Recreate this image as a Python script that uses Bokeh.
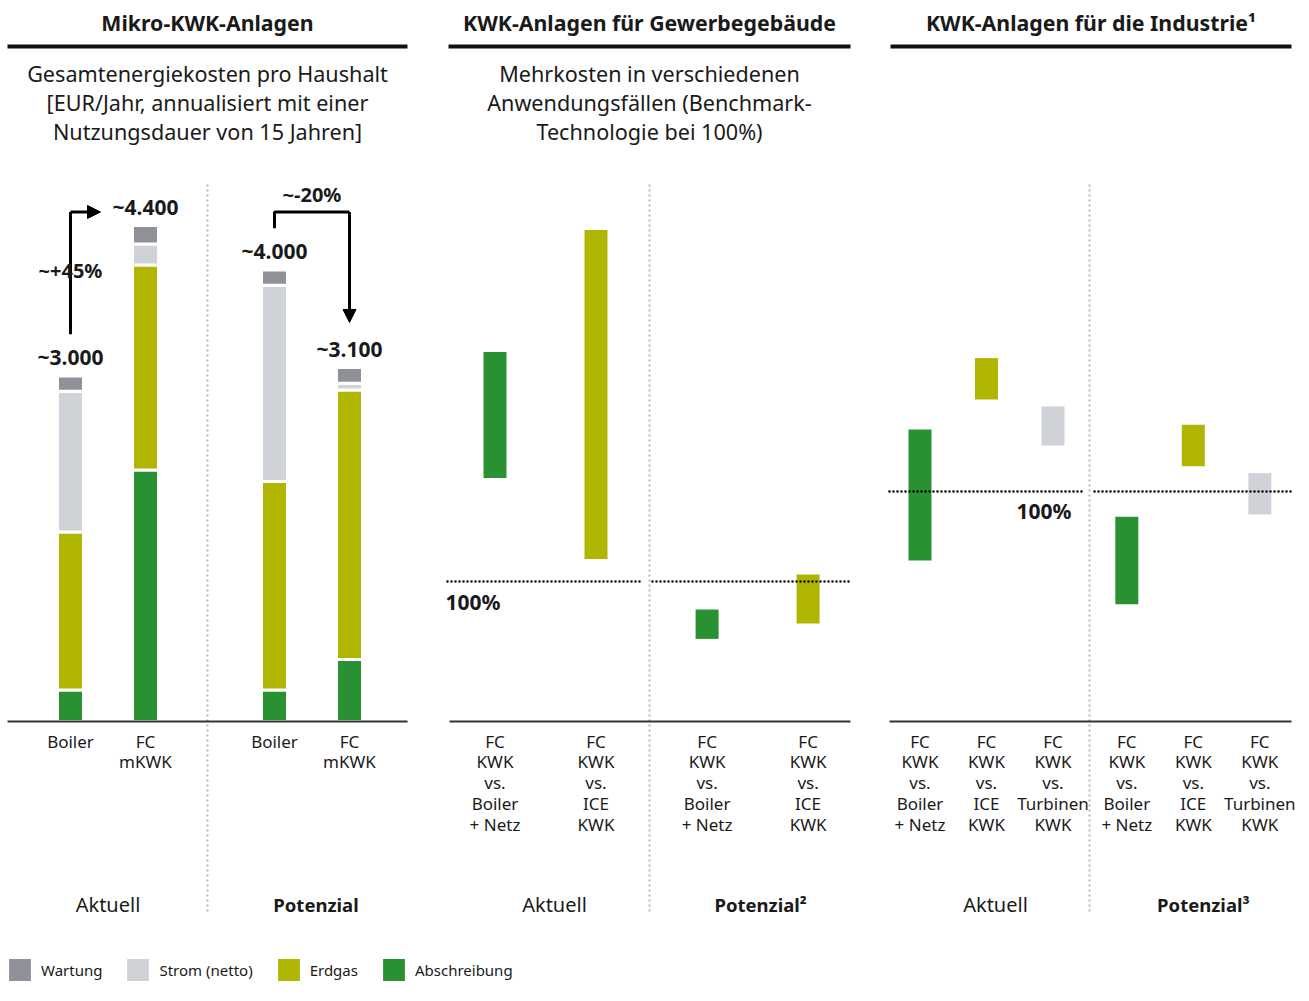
from bokeh.plotting import figure
from bokeh.models import Range1d, Legend, LegendItem, Arrow, NormalHead, ColumnDataSource
from bokeh.core.properties import value
from bokeh.embed import file_html
from bokeh.resources import INLINE

# ---------------- data ----------------
# Panel 1: Mikro-KWK-Anlagen, EUR/Jahr
p1_groups = ["Aktuell", "Potenzial"]
p1_group_of = [0, 0, 1, 1]
p1_index_in_group = [0, 1, 0, 1]
p1_categories = ["Boiler", "FC\nmKWK", "Boiler", "FC\nmKWK"]
abschreibung = [280, 2230, 280, 550]
erdgas = [1400, 1820, 1850, 2390]
strom_netto = [1250, 185, 1740, 60]
wartung = [135, 165, 135, 140]
p1_total_labels = ["~3.000", "~4.400", "~4.000", "~3.100"]
p1_change_labels = ["~+45%", "~-20%"]

# Panel 2: KWK-Anlagen für Gewerbegebäude, % of benchmark
p2_groups = ["Aktuell", "Potenzial²"]
p2_group_of = [0, 0, 1, 1]
p2_index_in_group = [0, 1, 0, 1]
p2_categories = ["FC\nKWK\nvs.\nBoiler\n+ Netz", "FC\nKWK\nvs.\nICE\nKWK",
                 "FC\nKWK\nvs.\nBoiler\n+ Netz", "FC\nKWK\nvs.\nICE\nKWK"]
p2_low = [174, 116, 59, 70]
p2_high = [264, 351, 80, 105]
p2_kind = ["Abschreibung", "Erdgas", "Abschreibung", "Erdgas"]

# Panel 3: KWK-Anlagen für die Industrie, % of benchmark
p3_groups = ["Aktuell", "Potenzial³"]
p3_group_of = [0, 0, 0, 1, 1, 1]
p3_index_in_group = [0, 1, 2, 0, 1, 2]
p3_categories = ["FC\nKWK\nvs.\nBoiler\n+ Netz", "FC\nKWK\nvs.\nICE\nKWK", "FC\nKWK\nvs.\nTurbinen\nKWK",
                 "FC\nKWK\nvs.\nBoiler\n+ Netz", "FC\nKWK\nvs.\nICE\nKWK", "FC\nKWK\nvs.\nTurbinen\nKWK"]
p3_low = [70, 140, 120, 51, 111, 90]
p3_high = [127, 158, 137, 89, 129, 108]
p3_kind = ["Abschreibung", "Erdgas", "Strom (netto)", "Abschreibung", "Erdgas", "Strom (netto)"]

benchmark = 100
benchmark_label = "100%"

legend_labels = ["Wartung", "Strom (netto)", "Erdgas", "Abschreibung"]

titles = ["Mikro-KWK-Anlagen", "KWK-Anlagen für Gewerbegebäude", "KWK-Anlagen für die Industrie¹"]
subtitles = [["Gesamtenergiekosten pro Haushalt", "[EUR/Jahr, annualisiert mit einer", "Nutzungsdauer von 15 Jahren]"],
             ["Mehrkosten in verschiedenen", "Anwendungsfällen (Benchmark-", "Technologie bei 100%)"],
             []]

# ---------------- style ----------------
COLORS = {"Wartung": "#8e9197", "Strom (netto)": "#cfd2d6", "Erdgas": "#afb500", "Abschreibung": "#2a9132"}
FONT = "Noto Sans"
INK = "#1a1a1a"

W, H = 1297, 985
p = figure(width=W, height=H, x_range=Range1d(0, W), y_range=Range1d(H, 0),
           output_backend="svg", toolbar_location=None, min_border=0,
           x_axis_location=None, y_axis_location=None)
p.grid.grid_line_color = None
p.outline_line_color = None
p.background_fill_color = "white"
p.border_fill_color = "white"

BASE = 721  # baseline (px from top)
panels = {
    "p1": dict(x0=70, unit=75, gap=2.72, k=496 / 4400, group_dx=[0, 4]),
    "p2": dict(x0=494.5, unit=101, gap=2.1, k=1.4, group_dx=[9, 3]),
    "p3": dict(x0=919.5, unit=66.5, gap=3.11, k=2.3, group_dx=[9, 10]),
}
xr, yr = {}, {}
for name, c in panels.items():
    xr[name] = Range1d(-c["x0"] / c["unit"], (W - c["x0"]) / c["unit"])
    yr[name] = Range1d((BASE - H) / c["k"], BASE / c["k"])
p.extra_x_ranges = xr
p.extra_y_ranges = yr


def positions(name, group_of, idx):
    g = panels[name]["gap"]
    return [gi * g + ii for gi, ii in zip(group_of, idx)]


def text(x, y, t, size, bold=False, align="center", baseline="middle", color=INK, **kw):
    p.text(x=x, y=y, text=t, text_font=value(FONT), text_font_size=f"{size}px",
           text_font_style="bold" if bold else "normal", text_align=align,
           text_baseline=baseline, text_color=color, **kw)


# ---------------- headers ----------------
header_spans = [(7, 407), (448, 850), (890, 1291)]
for (a, b), t, sub in zip(header_spans, titles, subtitles):
    text([(a + b) / 2], [22], [t], 21.3, bold=True)
    p.segment(x0=[a], y0=[46], x1=[b], y1=[46], line_color="#111111", line_width=4)
    for i, line in enumerate(sub):
        text([(a + b) / 2], [73 + 29 * i], [line], 21.6)

# dotted dividers
p.segment(x0=[207, 649, 1089], y0=[184] * 3, x1=[207, 649, 1089], y1=[912] * 3,
          line_color="#b3b8bf", line_width=2, line_dash="2 3")

# ---------------- panel 1 ----------------
pos1 = positions("p1", p1_group_of, p1_index_in_group)
stack_order = ["Abschreibung", "Erdgas", "Strom (netto)", "Wartung"]
src1 = ColumnDataSource(dict(x=pos1, Abschreibung=abschreibung, Erdgas=erdgas,
                             **{"Strom (netto)": strom_netto}, Wartung=wartung))
rs = p.vbar_stack(stack_order, x="x", width=26 / panels["p1"]["unit"], source=src1,
                  fill_color=[COLORS[s] for s in stack_order], line_color="white", line_width=3,
                  x_range_name="p1", y_range_name="p1")
totals = [a + b + c + d for a, b, c, d in zip(abschreibung, erdgas, strom_netto, wartung)]
text(pos1, totals, p1_total_labels, 21, bold=True, y_offset=-19, x_range_name="p1", y_range_name="p1")

level = max(totals) + 120
# arrow Aktuell
p.line(x=[pos1[0], pos1[0]], y=[totals[0] + 370, level], line_color="black", line_width=3,
       x_range_name="p1", y_range_name="p1")
p.add_layout(Arrow(end=NormalHead(size=13, fill_color="black", line_color="black"),
                   x_start=pos1[0], y_start=level, x_end=pos1[1] - 0.6, y_end=level,
                   line_width=3, line_color="black", x_range_name="p1", y_range_name="p1"))
text([pos1[0]], [(totals[0] + 370 + level) / 2], [p1_change_labels[0]], 20, bold=True, y_offset=-3,
     x_range_name="p1", y_range_name="p1")
# arrow Potenzial
p.line(x=[pos1[2], pos1[2], pos1[3]], y=[totals[2] + 370, level, level], line_color="black", line_width=3,
       x_range_name="p1", y_range_name="p1")
p.add_layout(Arrow(end=NormalHead(size=13, fill_color="black", line_color="black"),
                   x_start=pos1[3], y_start=level, x_end=pos1[3], y_end=totals[3] + 400,
                   line_width=3, line_color="black", x_range_name="p1", y_range_name="p1"))
text([(pos1[2] + pos1[3]) / 2], [level], [p1_change_labels[1]], 20, bold=True, y_offset=-17,
     x_range_name="p1", y_range_name="p1")

# ---------------- panel 2 ----------------
pos2 = positions("p2", p2_group_of, p2_index_in_group)
p.vbar(x=pos2, bottom=p2_low, top=p2_high, width=23 / panels["p2"]["unit"],
       fill_color=[COLORS[k] for k in p2_kind], line_color=None, x_range_name="p2", y_range_name="p2")
p.segment(x0=[447, 652], x1=[640, 851], y0=[benchmark] * 2, y1=[benchmark] * 2, line_color="black",
          line_width=2.5, line_dash="0 4", line_cap="round", y_range_name="p2")
text([445], [benchmark], [benchmark_label], 21, bold=True, align="left", y_offset=20, y_range_name="p2")

# ---------------- panel 3 ----------------
pos3 = positions("p3", p3_group_of, p3_index_in_group)
p.vbar(x=pos3, bottom=p3_low, top=p3_high, width=23 / panels["p3"]["unit"],
       fill_color=[COLORS[k] for k in p3_kind], line_color=None, x_range_name="p3", y_range_name="p3")
p.segment(x0=[889, 1094], x1=[1084, 1291], y0=[benchmark] * 2, y1=[benchmark] * 2, line_color="black",
          line_width=2.5, line_dash="0 4", line_cap="round", y_range_name="p3")
text([1071], [benchmark], [benchmark_label], 21, bold=True, align="right", y_offset=19, y_range_name="p3")

# baselines (drawn over the bars)
for a, b in [(7, 407), (449, 850), (889, 1291)]:
    p.segment(x0=[a], y0=[BASE], x1=[b], y1=[BASE], line_color="#333333", line_width=2)

# ---------------- category + group labels ----------------
for name, pos, cats, groups, gof in [("p1", pos1, p1_categories, p1_groups, p1_group_of),
                                    ("p2", pos2, p2_categories, p2_groups, p2_group_of),
                                    ("p3", pos3, p3_categories, p3_groups, p3_group_of)]:
    text(pos, [0] * len(pos), cats, 17, baseline="top", y_offset=8, text_line_height=0.91,
         x_range_name=name, y_range_name=name)
    dx = panels[name]["group_dx"]
    for g in range(len(groups)):
        members = [x for x, gg in zip(pos, gof) if gg == g]
        gx = sum(members) / len(members)
        text([gx], [0], [groups[g]], 20 if g == 0 else 18.5, bold=(g == 1), y_offset=183, x_offset=dx[g],
             x_range_name=name, y_range_name=name)

# ---------------- legend ----------------
by_name = dict(zip(stack_order, rs))
legend = Legend(items=[LegendItem(label=l, renderers=[by_name[l]]) for l in legend_labels],
                orientation="horizontal", location=(4, 0), glyph_width=31, glyph_height=31,
                label_standoff=6, spacing=20, padding=0, margin=0, border_line_color=None,
                background_fill_alpha=0, label_text_font=FONT, label_text_font_size="15px",
                label_text_color=INK)
p.add_layout(legend)

open("out.html", "w").write(file_html(p, INLINE))
